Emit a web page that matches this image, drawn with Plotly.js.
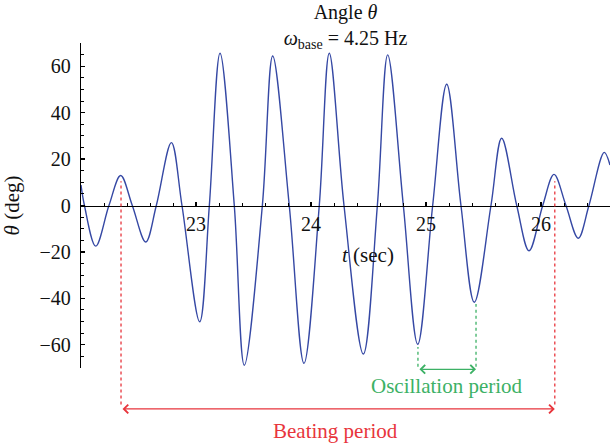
<!DOCTYPE html>
<html>
<head>
<meta charset="utf-8">
<script src="https://cdn.plot.ly/plotly-3.0.1.min.js"></script>
<style>html,body{margin:0;padding:0;background:#fff;}#chart{width:610px;height:445px;}</style>
</head>
<body>
<div id="chart"></div>
<script>
// time (s) and angle (deg)
const tValues = [22.0, 22.03, 22.128, 22.243, 22.345, 22.446, 22.563, 22.655, 22.786, 22.878,
  23.032, 23.116, 23.209, 23.333, 23.42, 23.577, 23.667, 23.811, 23.939, 24.072,
  24.159, 24.287, 24.455, 24.577, 24.667, 24.803, 24.928, 25.058, 25.18, 25.304,
  25.42, 25.565, 25.658, 25.789, 25.896, 26.015, 26.113, 26.217, 26.324, 26.417,
  26.55, 26.6];
const thetaValues = [8.8, 0, -17.5, 0, 12.9, 0, -15.7, 0, 27.1, 0,
  -50.1, 0, 65.6, 0, -68.8, 0, 64.4, 0, -68, 0,
  65.6, 0, -64, 0, 64.9, 0, -59.8, 0, 52.2, 0,
  -41.7, 0, 29, 0, -19.5, 0, 13.4, 0, -14.1, 0,
  22.9, 17.4];
const xTickVals = [23, 24, 25, 26];
const yTickVals = [-60, -40, -20, 0, 20, 40, 60];
// marked periods (t values)
const beatingPeriod = [22.348, 26.12];
const oscillationPeriod = [24.93, 25.435];

const FONT = 'Liberation Serif, Times New Roman, serif';
const RED = '#e8353c';
const GREEN = '#3cb165';

const trace = {
  x: tValues, y: thetaValues, type: 'scatter', mode: 'lines',
  line: {color: '#3548a4', width: 1.4, shape: 'spline', smoothing: 1},
  hoverinfo: 'skip'
};

const layout = {
  width: 610, height: 445,
  margin: {l: 81, r: 0, t: 43, b: 77},
  paper_bgcolor: '#fff', plot_bgcolor: 'rgba(0,0,0,0)',
  showlegend: false,
  font: {family: FONT, size: 20, color: '#111'},
  title: {
    text: 'Angle <i>θ</i><br><i>ω</i><sub>base</sub> = 4.25 Hz',
    font: {family: FONT, size: 20, color: '#111'},
    x: 0.5, xref: 'paper', y: 0.957, yref: 'container', yanchor: 'top'
  },
  xaxis: {
    range: [22, 26.6], anchor: 'free', position: 0.5,
    showgrid: false, zeroline: false,
    showline: true, linecolor: '#000', linewidth: 1.3,
    tickmode: 'array', tickvals: xTickVals,
    ticks: 'inside', ticklen: 4, tickwidth: 1.2, tickcolor: '#000',
    minor: {tickmode: 'linear', tick0: 22, dtick: 0.2, ticks: 'inside', ticklen: 3, tickwidth: 1, tickcolor: '#000'},
    ticklabelstandoff: 0,
    tickfont: {family: FONT, size: 20, color: '#111'}
  },
  yaxis: {
    range: [-70, 70], domain: [0, 1],
    showgrid: false, zeroline: false,
    showline: true, linecolor: '#000', linewidth: 1.3,
    tickmode: 'array', tickvals: yTickVals,
    ticks: 'inside', ticklen: 4, tickwidth: 1.2, tickcolor: '#000',
    minor: {tickmode: 'linear', tick0: 0, dtick: 5, ticks: 'inside', ticklen: 2.5, tickwidth: 1, tickcolor: '#000'},
    ticklabelstandoff: 5,
    tickfont: {family: FONT, size: 20, color: '#111'},
    title: {text: '<i>θ</i> (deg)', font: {family: FONT, size: 21, color: '#111'}, standoff: 14}
  },
  shapes: [
    {type: 'line', xref: 'x', yref: 'paper', x0: beatingPeriod[0], x1: beatingPeriod[0], y0: -0.112, y1: 0.575,
      line: {color: RED, width: 1.3, dash: 'dot'}},
    {type: 'line', xref: 'x', yref: 'paper', x0: beatingPeriod[1], x1: beatingPeriod[1], y0: -0.112, y1: 0.575,
      line: {color: RED, width: 1.3, dash: 'dot'}},
    {type: 'line', xref: 'x', yref: 'paper', x0: oscillationPeriod[0], x1: oscillationPeriod[0], y0: 0.004, y1: 0.065,
      line: {color: GREEN, width: 1.3, dash: 'dot'}},
    {type: 'line', xref: 'x', yref: 'paper', x0: oscillationPeriod[1], x1: oscillationPeriod[1], y0: 0.004, y1: 0.197,
      line: {color: GREEN, width: 1.3, dash: 'dot'}}
  ],
  annotations: [
    {xref: 'x', yref: 'paper', x: 24.496, y: 0.348, text: '<i>t</i> (sec)', showarrow: false,
      font: {family: FONT, size: 21, color: '#111'}, xanchor: 'center', yanchor: 'middle'},
    {xref: 'x', yref: 'paper', x: beatingPeriod[1], y: -0.126, axref: 'x', ayref: 'pixel', ax: beatingPeriod[0], ay: 0,
      text: '', showarrow: true, arrowside: 'end+start', arrowhead: 4, arrowsize: 1.3, arrowwidth: 1.3, arrowcolor: RED, standoff: 0, startstandoff: 0},
    {xref: 'x', yref: 'paper', x: oscillationPeriod[1], y: -0.004, axref: 'x', ayref: 'pixel', ax: oscillationPeriod[0], ay: 0,
      text: '', showarrow: true, arrowside: 'end+start', arrowhead: 4, arrowsize: 1.3, arrowwidth: 1.3, arrowcolor: GREEN, standoff: 0, startstandoff: 0},
    {xref: 'x', yref: 'paper', x: 25.183, y: -0.055, text: 'Oscillation period', showarrow: false,
      font: {family: FONT, size: 21, color: GREEN}, xanchor: 'center', yanchor: 'middle'},
    {xref: 'x', yref: 'paper', x: 24.217, y: -0.194, text: 'Beating period', showarrow: false,
      font: {family: FONT, size: 21, color: RED}, xanchor: 'center', yanchor: 'middle'}
  ]
};

Plotly.newPlot('chart', [trace], layout, {staticPlot: true, displayModeBar: false});
</script>
</body>
</html>
